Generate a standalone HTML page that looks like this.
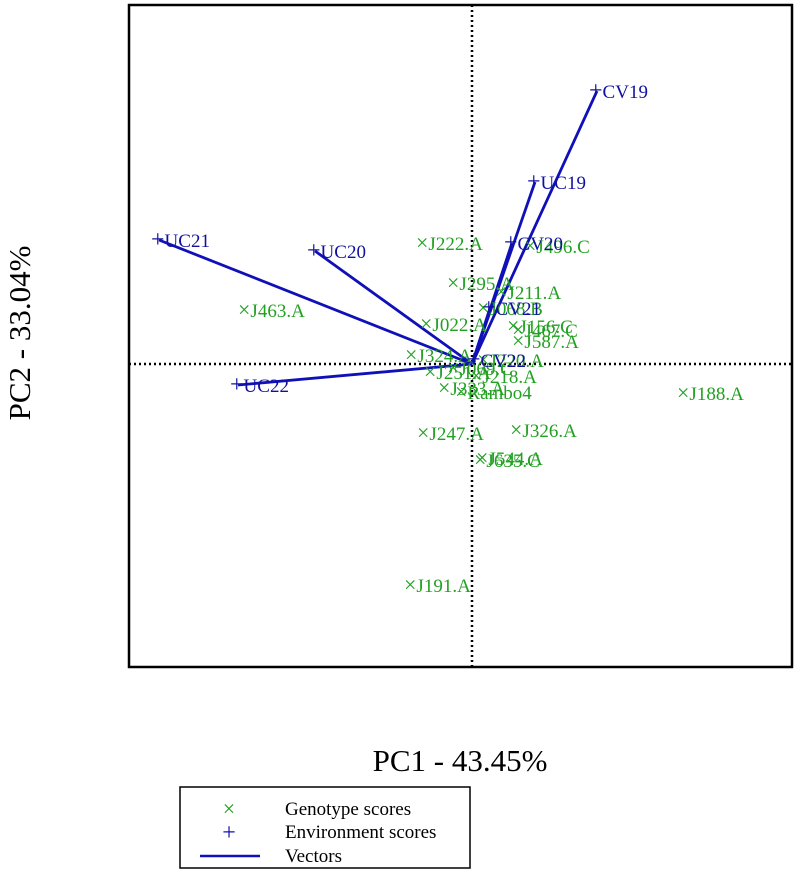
<!DOCTYPE html>
<html><head><meta charset="utf-8"><style>
body{margin:0;background:#fff;width:796px;height:878px;overflow:hidden}
text{font-family:"Liberation Serif",serif}
</style></head><body>
<svg width="796" height="878">
<rect x="129" y="5" width="663" height="662" fill="none" stroke="#000" stroke-width="2.5"/>
<line x1="472" y1="5" x2="472" y2="667" stroke="#000" stroke-width="2.5" stroke-dasharray="2,3"/>
<line x1="129" y1="364" x2="792" y2="364" stroke="#000" stroke-width="2.5" stroke-dasharray="2,3"/>
<g id="vec"></g><g id="gen"></g><g id="env"></g>
<text x="460" y="771" font-size="31" text-anchor="middle">PC1 - 43.45%</text>
<text transform="translate(30,333) rotate(-90)" font-size="31" text-anchor="middle">PC2 - 33.04%</text>
<g>
<rect x="180" y="787" width="290" height="81" fill="#fff" stroke="#000" stroke-width="1.5"/>
<text x="229" y="816" font-size="22" fill="#22a022" text-anchor="middle">×</text>
<text x="285" y="815" font-size="19">Genotype scores</text>
<text x="229" y="840" font-size="24" fill="#1010b0" text-anchor="middle">+</text>
<text x="285" y="838" font-size="19">Environment scores</text>
<line x1="200" y1="856" x2="260" y2="856" stroke="#1010b8" stroke-width="2.5"/>
<text x="285" y="862" font-size="19">Vectors</text>
</g>
</svg>
<script>
const ox=472, oy=364, sc=100;
const genNames=["J222.A","J496.C","J295.A","J211.A","J068.B","J022.A","J156.C","J467.C","J587.A","J324.A","J220.A","J251.A","J069.C","J218.A","J333.A","Rambo4","J463.A","J188.A","J247.A","J326.A","J544.A","J635.C","J191.A"];
const genX=[-0.48,0.60,-0.17,0.31,0.13,-0.44,0.43,0.48,0.48,-0.59,0.13,-0.40,-0.17,0.06,-0.26,-0.09,-2.26,2.13,-0.47,0.46,0.12,0.10,-0.60];
const genY=[1.21,1.18,0.81,0.72,0.56,0.40,0.38,0.34,0.23,0.09,0.04,-0.08,-0.04,-0.12,-0.24,-0.28,0.54,-0.29,-0.69,-0.66,-0.94,-0.96,-2.21];
const envNames=["CV19","UC19","CV20","CV21","CV22","UC21","UC20","UC22"];
const envX=[1.25,0.63,0.40,0.18,0.03,-3.13,-1.57,-2.34];
const envY=[2.73,1.82,1.21,0.56,0.04,1.24,1.13,-0.21];
const X=v=>ox+v*sc, Y=v=>oy-v*sc;
const NS="http://www.w3.org/2000/svg";
const gv=document.getElementById('vec'),gg=document.getElementById('gen'),ge=document.getElementById('env');
envX.forEach((v,i)=>{
 const l=document.createElementNS(NS,'line');
 
 
 l.setAttribute('x1',ox);l.setAttribute('y1',oy);l.setAttribute('x2',X(v));l.setAttribute('y2',Y(envY[i]));
 l.setAttribute('stroke','#1010b8');l.setAttribute('stroke-width','2.8');gv.appendChild(l);
});
function mk(g,name,x,y,glyph,gs,col){
 const t=document.createElementNS(NS,'text');
 
 
 t.setAttribute('x',x-7);t.setAttribute('y',y+7);t.setAttribute('font-size','19');t.setAttribute('fill',col);
 const s=document.createElementNS(NS,'tspan');s.setAttribute('font-size',gs);s.textContent=glyph;
 t.appendChild(s);t.appendChild(document.createTextNode(name.split('|')[1]||''));
 return t;
}
genX.forEach((v,i)=>{
 const t=document.createElementNS(NS,'text');
 
 
 t.setAttribute('x',X(v)-8);t.setAttribute('y',Y(genY[i])+7);t.setAttribute('font-size','19');t.setAttribute('fill','#22a022');
 const s=document.createElementNS(NS,'tspan');s.setAttribute('font-size','22');s.textContent='×';
 t.appendChild(s);t.appendChild(document.createTextNode(genNames[i]));gg.appendChild(t);
});
envX.forEach((v,i)=>{
 const t=document.createElementNS(NS,'text');
 
 
 t.setAttribute('x',X(v)-8);t.setAttribute('y',Y(envY[i])+7);t.setAttribute('font-size','19');t.setAttribute('fill','#1010a0');
 const s=document.createElementNS(NS,'tspan');s.setAttribute('font-size','24');s.textContent='+';
 t.appendChild(s);t.appendChild(document.createTextNode(envNames[i]));ge.appendChild(t);
});
</script>
</body></html>
